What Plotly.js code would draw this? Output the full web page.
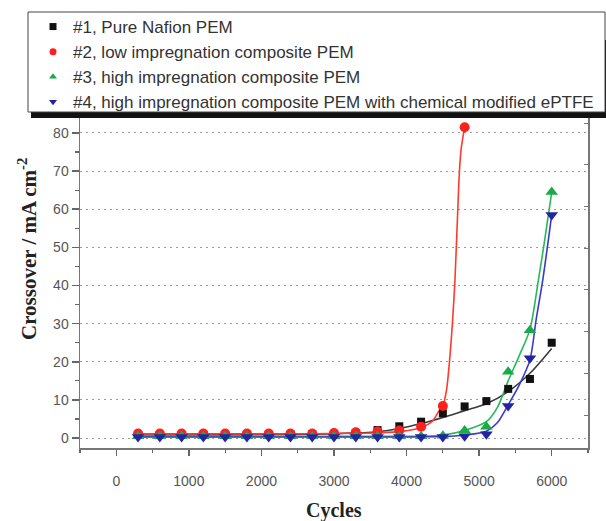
<!DOCTYPE html>
<html>
<head>
<meta charset="utf-8">
<script src="https://cdn.plot.ly/plotly-3.0.1.min.js"></script>
<style>html,body{margin:0;padding:0;background:#fff;}#chart{width:606px;height:521px;}</style>
</head>
<body>
<div id="chart"></div>
<script>
// ---- data ----
const seriesNames = [
  "#1, Pure Nafion PEM",
  "#2, low impregnation composite PEM",
  "#3, high impregnation composite PEM",
  "#4, high impregnation composite PEM with chemical modified ePTFE"
];
const cycles = [300,600,900,1200,1500,1800,2100,2400,2700,3000,3300,3600,3900,4200,4500,4800,5100,5400,5700,6000];
const cyclesRed = [300,600,900,1200,1500,1800,2100,2400,2700,3000,3300,3600,3900,4200,4500,4800];
const pem1 = [0.8,0.8,0.8,0.8,0.8,0.9,0.9,0.9,1.0,1.1,1.3,2.1,3.1,4.3,6.5,8.3,9.7,12.9,15.5,25.0];
const pem2 = [1.2,1.2,1.2,1.2,1.2,1.2,1.2,1.2,1.2,1.3,1.5,1.7,2.0,3.0,8.4,81.5];
const pem3 = [0.5,0.5,0.5,0.5,0.5,0.5,0.5,0.5,0.5,0.5,0.5,0.5,0.5,0.5,0.6,2.0,3.0,17.4,28.3,64.5];
const pem4 = [0.3,0.3,0.3,0.3,0.3,0.3,0.3,0.3,0.3,0.3,0.3,0.3,0.3,0.3,0.3,0.5,1.0,8.4,20.9,58.5];

// fitted curves
const fit1x = [300,1500,2400,3000,3600,3900,4200,4500,4800,5100,5400,5700,6000];
const fit1y = [0.8,0.85,0.95,1.15,1.65,2.5,3.8,5.4,7.2,9.0,12.2,17.0,23.5];
const fit2x = [300,1500,2700,3300,3600,3900,4200,4350,4440,4500,4550,4600,4667,4722,4750,4800];
const fit2y = [1.1,1.1,1.15,1.25,1.4,1.7,2.8,4.3,6.9,8.5,12.6,22,41.5,67.7,75.5,81.5];
const fit3x = [300,1500,3000,4200,4500,4800,5100,5250,5400,5550,5700,5817,5900,6000];
const fit3y = [0.45,0.45,0.45,0.5,0.8,2.0,4.3,8.0,15.0,21.5,28.5,41.5,51.5,64.5];
const fit4x = [300,1500,3000,4500,4800,5100,5250,5400,5550,5700,5785,5877,6000];
const fit4y = [0.3,0.3,0.3,0.4,0.8,1.8,4.0,8.7,13.8,20.5,31,41.5,58.5];

const colors = ['#111111','#ff1f1f','#1aaa4a','#2424a2'];
const lineColors = ['#3a3a3a','#ff3a2a','#22bb58','#3a3ac8'];
const symbols = ['square','circle','triangle-up','triangle-down'];
const msize = [8,10,11,11];

const fitsX = [fit1x,fit2x,fit3x,fit4x];
const fitsY = [fit1y,fit2y,fit3y,fit4y];
const dataX = [cycles,cyclesRed,cycles,cycles];
const dataY = [pem1,pem2,pem3,pem4];

const traces = [];
for (let i=0;i<4;i++){
  traces.push({x:fitsX[i],y:fitsY[i],mode:'lines',type:'scatter',showlegend:false,hoverinfo:'skip',
    line:{color:lineColors[i],width:1.6,shape:'spline',smoothing:0.8}});
}
for (let i=0;i<4;i++){
  traces.push({x:dataX[i],y:dataY[i],mode:'markers',type:'scatter',showlegend:false,
    marker:{symbol:symbols[i],size:msize[i],color:colors[i],line:{width:0}}});
}
// legend entries
for (let i=0;i<4;i++){
  traces.push({x:[null],y:[null],mode:'markers',type:'scatter',name:seriesNames[i],
    marker:{symbol:symbols[i],size:7,color:colors[i]}});
}
// right axis (mirror) carrier
traces.push({x:[null],y:[null],yaxis:'y2',mode:'markers',showlegend:false,hoverinfo:'skip'});

const sans = 'Liberation Sans, Arial, sans-serif';
const serif = 'Liberation Serif, Times New Roman, serif';
const W=606,H=521,L=80,R=18,T=115,B=73;
const pw=W-L-R, ph=H-T-B;
const px2x = p => (p-L)/pw;
const py2y = p => (H-B-p)/ph;

const layout = {
  width:W,height:H,
  margin:{l:L,r:R,t:T,b:B,autoexpand:false},
  paper_bgcolor:'#fff',plot_bgcolor:'#fff',
  font:{family:sans,color:'#444',size:14},
  xaxis:{range:[-500,6500],tick0:0,dtick:1000,ticks:'outside',ticklen:6,tickwidth:1.5,tickcolor:'#666',
    showline:true,linecolor:'#777',linewidth:1.5,showgrid:false,zeroline:false,
    tickfont:{family:sans,size:14,color:'#555'},ticklabelstandoff:14,
    minor:{dtick:500,ticks:'outside',ticklen:3,tickwidth:1.2,tickcolor:'#666',showgrid:false}},
  yaxis:{range:[-2.6,84.7],tick0:0,dtick:10,ticks:'outside',ticklen:7,tickwidth:1.5,tickcolor:'#666',
    showline:true,linecolor:'#777',linewidth:1.5,showgrid:true,gridcolor:'#9a9a9a',gridwidth:1,griddash:'2px,4px',
    zeroline:false,tickfont:{family:sans,size:14,color:'#555'},
    minor:{dtick:5,ticks:'outside',ticklen:4,tickwidth:1.2,tickcolor:'#666',showgrid:false}},
  yaxis2:{overlaying:'y',side:'right',range:[2.09,81.95],tick0:0,dtick:10,ticks:'inside',ticklen:4,
    tickcolor:'#777',showticklabels:false,showline:true,linecolor:'#777',linewidth:1.5,showgrid:false,zeroline:false},
  showlegend:true,
  legend:{x:px2x(33),y:py2y(9),xanchor:'left',yanchor:'top',bgcolor:'rgba(0,0,0,0)',borderwidth:0,
    font:{family:sans,size:17,color:'#333'},tracegroupgap:0,traceorder:'normal'},
  shapes:[
    {type:'rect',xref:'paper',yref:'paper',x0:px2x(31),x1:px2x(612),y0:py2y(118),y1:py2y(40),
      fillcolor:'#111',line:{width:0},layer:'above'},
    {type:'rect',xref:'paper',yref:'paper',x0:px2x(28),x1:px2x(605),y0:py2y(112),y1:py2y(12),
      fillcolor:'#fff',line:{color:'#444',width:1},layer:'above'}
  ],
  annotations:[
    {text:'Cycles',xref:'paper',yref:'paper',x:px2x(334),y:py2y(510),xanchor:'center',yanchor:'middle',
      showarrow:false,font:{family:serif,size:20,color:'#222',weight:'bold'}},
    {text:'Crossover / mA cm<sup>-2</sup>',xref:'paper',yref:'paper',x:px2x(27),y:py2y(249),textangle:-90,
      xanchor:'center',yanchor:'middle',showarrow:false,font:{family:serif,size:21,color:'#222',weight:'bold'}}
  ]
};

Plotly.newPlot('chart',traces,layout,{staticPlot:true,displayModeBar:false});
</script>
</body>
</html>
